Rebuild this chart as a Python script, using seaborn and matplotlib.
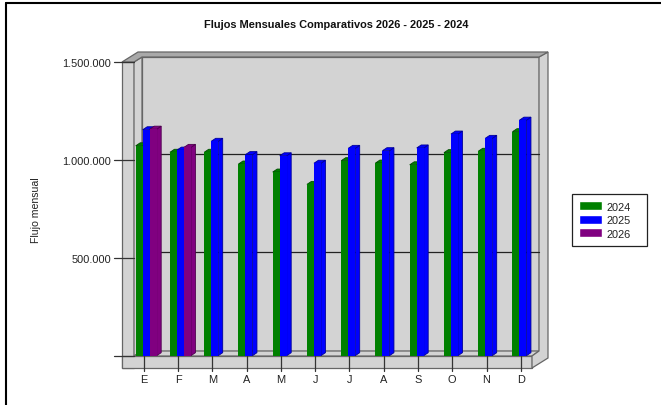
import matplotlib
matplotlib.use("Agg")
import matplotlib.pyplot as plt
import numpy as np
import pandas as pd
import seaborn as sns
from matplotlib.lines import Line2D
from matplotlib.patches import Polygon
from matplotlib.transforms import IdentityTransform

# Values
months = ["E", "F", "M", "A", "M", "J", "J", "A", "S", "O", "N", "D"]
flujo_2024 = [1072000, 1039000, 1039000, 979000, 938000, 875000, 996000, 984000, 975000, 1037000, 1044000, 1144000]
flujo_2025 = [1154000, 1050000, 1095000, 1027000, 1021000, 983000, 1059000, 1047000, 1061000, 1132000, 1110000, 1203000]
flujo_2026 = [1157000, 1064000]
ytick_vals = [0, 500000, 1000000, 1500000]
ytick_labels = ["", "500.000", "1.000.000", "1.500.000"]

W, H = 661, 406
DX, DY = 4.5, 3   # bar depth in pixels
WALL = "#D3D3D3"
EDGE = "#666666"

sns.set_style("white")
plt.rcParams["font.family"] = ["Liberation Sans", "DejaVu Sans"]

# Long table for seaborn, position index keeps the repeated month letters apart
rows = []
for i in range(len(months)):
    rows.append({"pos": i, "anio": "2024", "flujo": flujo_2024[i]})
    rows.append({"pos": i, "anio": "2025", "flujo": flujo_2025[i]})
    if i < len(flujo_2026):
        rows.append({"pos": i, "anio": "2026", "flujo": flujo_2026[i]})
df = pd.DataFrame(rows)


def px(x, y):
    return (x / W, 1 - y / H)


def chrome(points, face, z=-5):
    poly = Polygon([px(*p) for p in points], closed=True, facecolor=face, edgecolor=EDGE,
                   linewidth=0.9, transform=fig.transFigure, zorder=z)
    fig.add_artist(poly)


def pixel_line(x0, y0, x1, y1, color="#333333", z=-3):
    (a, b), (c, d) = px(x0, y0), px(x1, y1)
    fig.add_artist(Line2D([a, c], [b, d], color=color, lw=0.9, transform=fig.transFigure, zorder=z))


fig = plt.figure(figsize=(W / 100, H / 100), dpi=100)

# Axes is the front plane of the fake 3D box
left, right, top, bottom = 134, 532, 63, 356.7
ax = fig.add_axes([left / W, 1 - bottom / H, (right - left) / W, (bottom - top) / H])
ax.patch.set_alpha(0)

palette = {"2024": "#008000", "2025": "#0000FF", "2026": "#800080"}
sns.barplot(data=df, x="pos", y="flujo", hue="anio", palette=palette, width=0.613, gap=0,
            saturation=1, errorbar=None, ax=ax, order=range(12))

step = 34.25
ax.set_xlim((left - 146.2) / step, (right - 146.2) / step)
ax.set_ylim(0, 1500000)
ax.set_xlabel("")
ax.set_ylabel("")
sns.despine(ax=ax, left=True, bottom=True, top=True, right=True)

xpos = np.arange(12) - 2.2 / step
ax.set_xticks(xpos)
ax.set_xticklabels(months)
ax.set_yticks(ytick_vals)
ax.set_yticklabels(ytick_labels)
# tick marks are drawn over the walls further down, these only place the labels
ax.tick_params(axis="x", length=0, pad=13.1, labelsize=7.9, labelcolor="#222222")
ax.tick_params(axis="y", length=0, pad=16.2, labelsize=7.9, labelcolor="#222222")

# Box walls
chrome([(122, 63), (134, 63), (134, 369), (122, 369)], WALL)
chrome([(122, 369), (532, 369), (532, 357), (122, 357)], WALL)
chrome([(142, 58), (539, 58), (539, 352), (142, 352)], WALL)
chrome([(134, 63), (142, 58), (142, 352), (134, 357)], WALL)
chrome([(134, 357), (142, 352), (539, 352), (532, 357)], WALL)
chrome([(532, 369), (548, 359), (548, 53), (539, 58), (539, 352), (532, 357)], WALL)
chrome([(122, 63), (138, 53), (548, 53), (539, 58), (142, 58), (134, 63)], "#A9A9A9")

# Gridlines sit on the back wall, tick marks on the front
for t in ytick_vals:
    y = bottom - (bottom - top) * t / 1500000
    pixel_line(114, y, 134, y)
    if t in (500000, 1000000):
        pixel_line(142, y - 6, 539, y - 6, color="#222222", z=-4)
for p in xpos:
    x = ax.transData.transform((p, 0))[0]
    pixel_line(x, bottom, x, 371.5)

# Give each bar a side and a top face
fig.canvas.draw()
bars = sorted([b for b in ax.patches if b.get_height() > 0], key=lambda b: b.get_x())
for n, bar in enumerate(bars):
    c = bar.get_facecolor()
    dark = tuple(v * 0.6 for v in c[:3])
    x0, y0 = ax.transData.transform((bar.get_x(), 0))
    x1, y1 = ax.transData.transform((bar.get_x() + bar.get_width(), bar.get_height()))
    z = 3 + n * 0.01
    side = [(x1, y0), (x1 + DX, y0 + DY), (x1 + DX, y1 + DY), (x1, y1)]
    cap = [(x0, y1), (x0 + DX, y1 + DY), (x1 + DX, y1 + DY), (x1, y1)]
    for pts in (side, cap):
        ax.add_patch(Polygon(pts, closed=True, facecolor=c, edgecolor=dark, linewidth=0.6,
                             transform=IdentityTransform(), clip_on=False, zorder=z))
    bar.set_edgecolor("none")
    bar.set_linewidth(0)
    bar.set_zorder(z + 0.001)
    bar.set_clip_on(False)

# Legend
lx, ly = px(571.7, 247)
sns.move_legend(ax, "lower left", bbox_to_anchor=(lx, ly, 75.3 / W, 53 / H), bbox_transform=fig.transFigure,
                mode="expand", title=None, frameon=True, fontsize=7.9, fancybox=False, borderaxespad=0,
                borderpad=0.68, handlelength=2.05, handleheight=0.9, handletextpad=0.4,
                labelspacing=0.28, edgecolor="#222222", framealpha=1)
ax.get_legend().get_frame().set_linewidth(0.9)
ax.get_legend().set_zorder(10)
for txt in ax.get_legend().get_texts():
    txt.set_color("#222222")

fig.text(*px(336.5, 24.5), "Flujos Mensuales Comparativos 2026 - 2025 - 2024", ha="center", va="center",
         fontsize=7.9, fontweight="bold", color="#111111")
fig.text(*px(36, 210), "Flujo mensual", ha="center", va="center", rotation=90, fontsize=7.6, color="#222222")

# Outer border, only top and left show in the crop
fig.add_artist(Line2D([6 / W, 1], [1 - 4 / H] * 2, color="black", lw=1.5, transform=fig.transFigure))
fig.add_artist(Line2D([6 / W, 6 / W], [0, 1 - 4 / H], color="black", lw=1.5, transform=fig.transFigure))

fig.savefig("out.png", dpi=100)
